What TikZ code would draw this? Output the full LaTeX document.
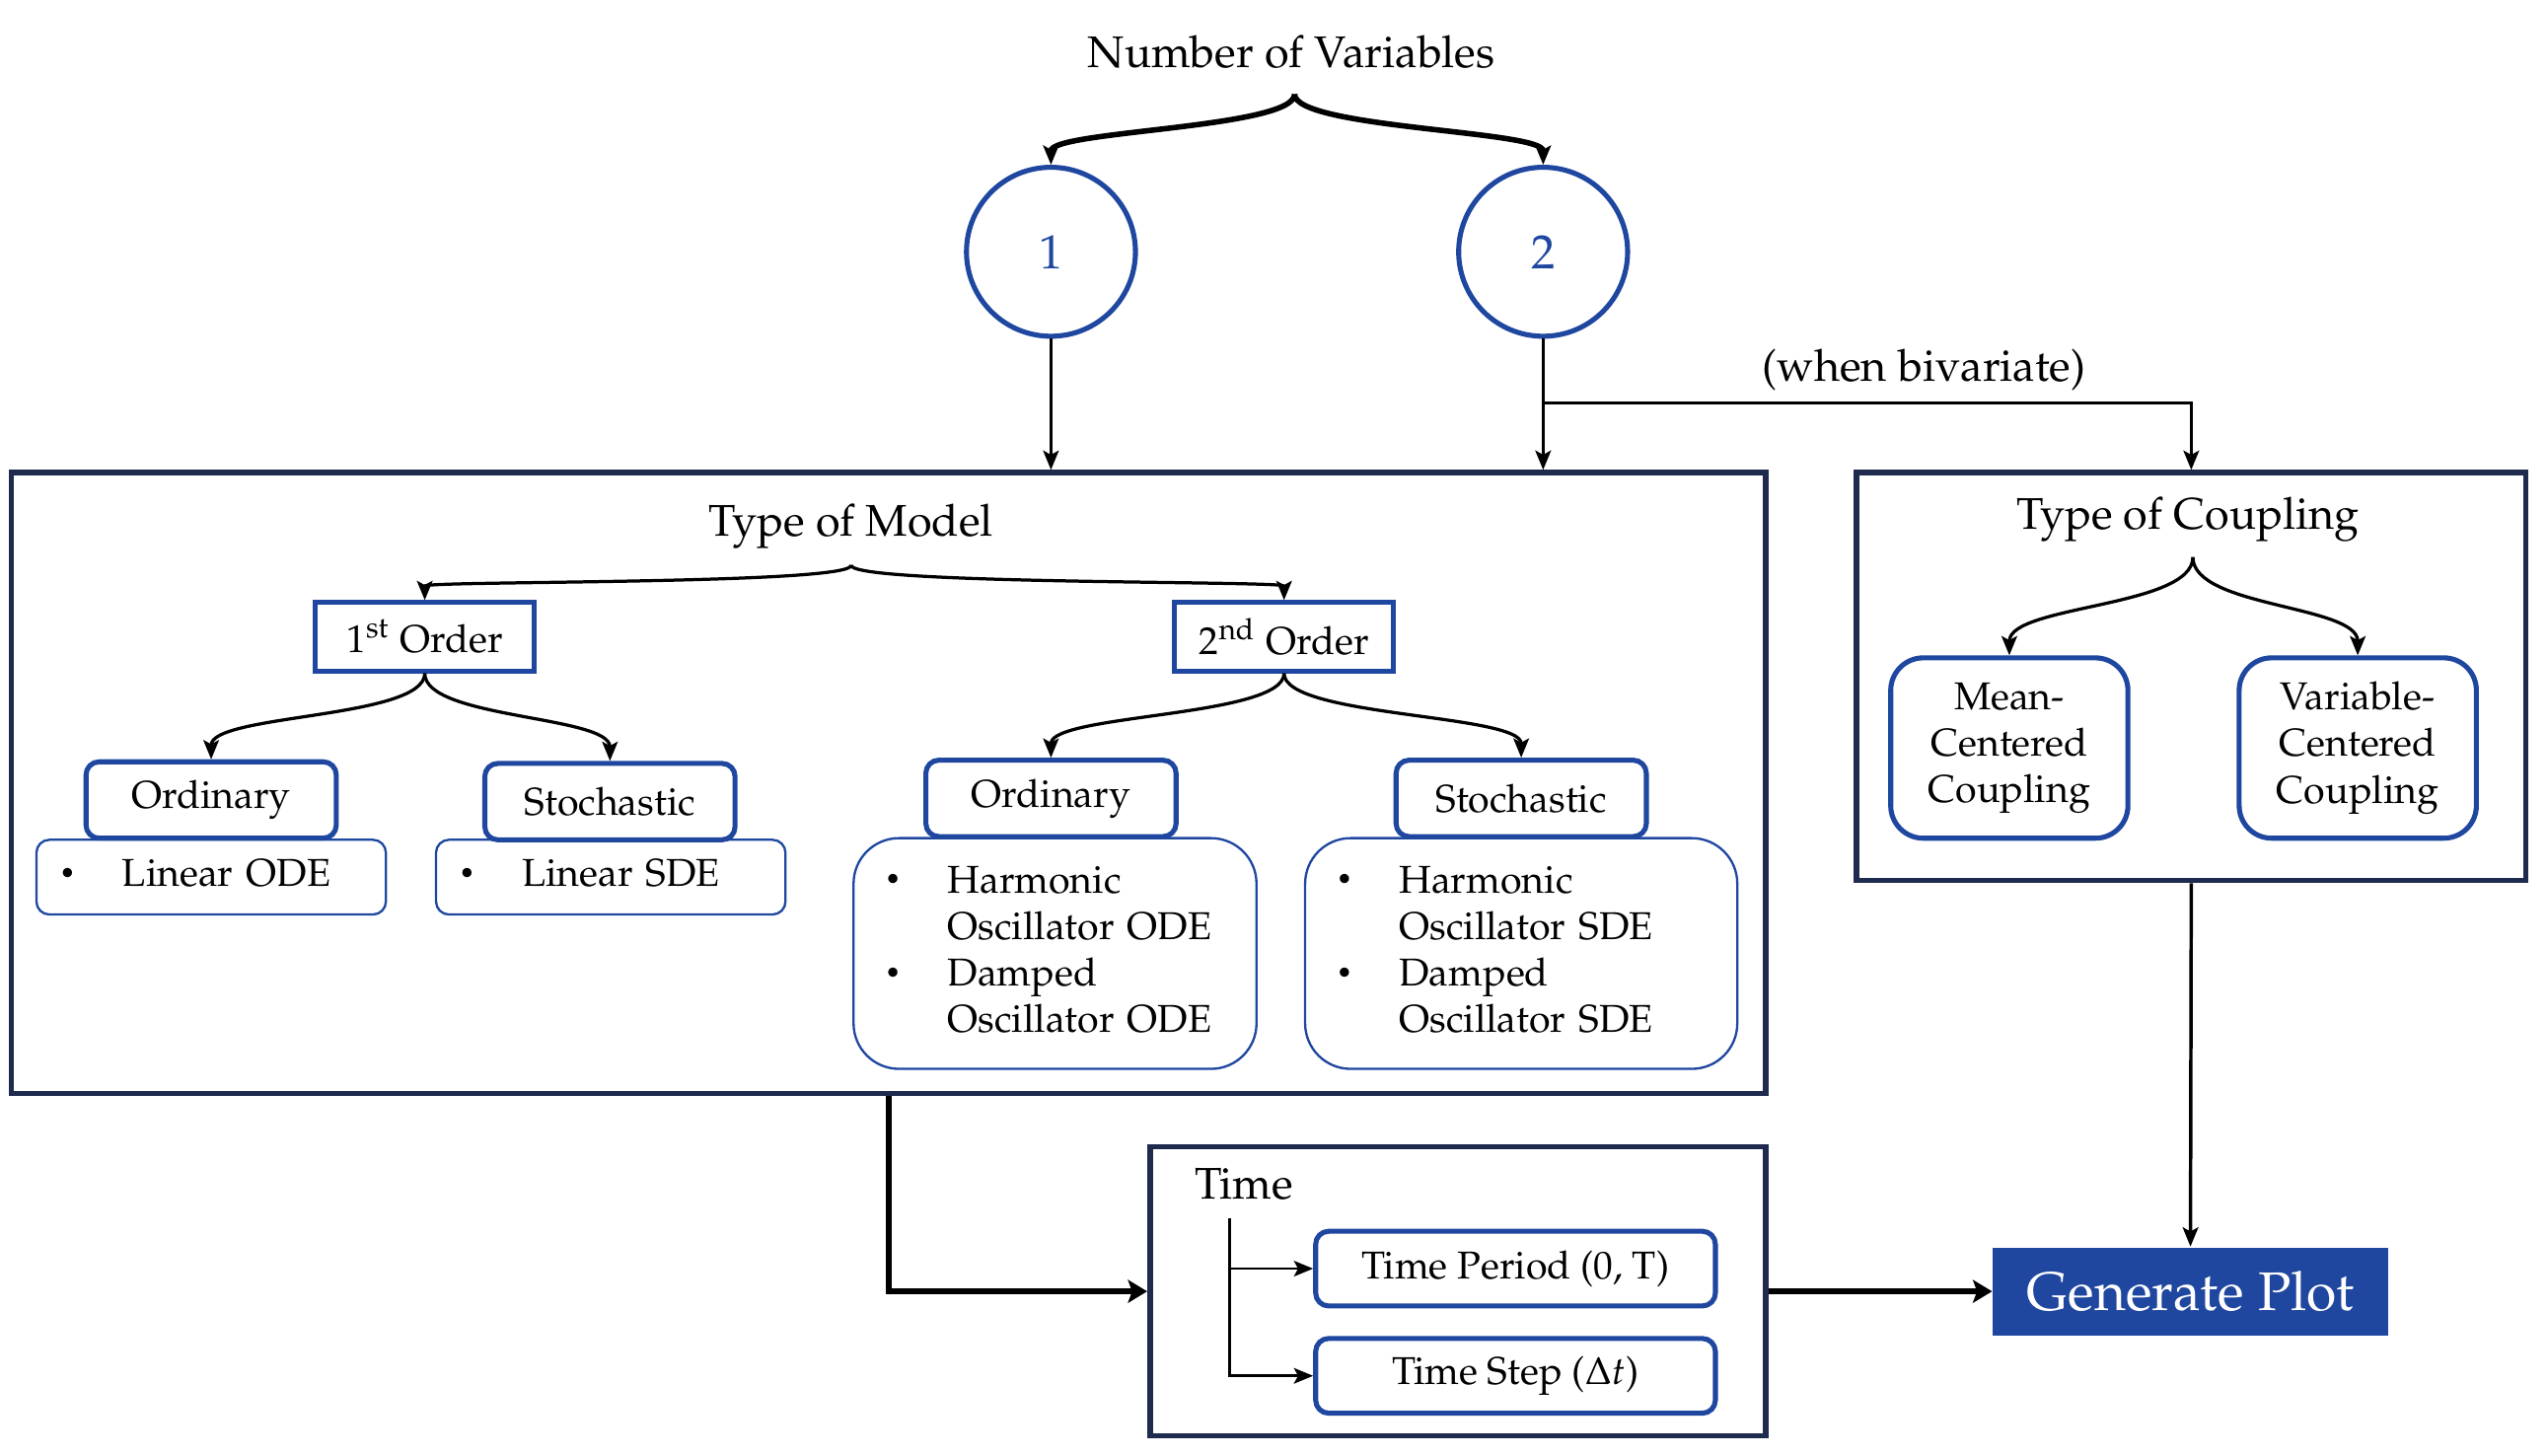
\documentclass[tikz,border=0pt]{standalone}
\usepackage[T1]{fontenc}
\usepackage{mathpazo}
\usepackage{tikz}
\usetikzlibrary{arrows.meta}
\definecolor{nodeblue}{RGB}{31,71,160}
\definecolor{boxnavy}{RGB}{30,43,79}
\newcommand{\bigtext}{\fontsize{9.7}{12}\selectfont}
\newcommand{\smalltext}{\fontsize{8.5}{10.2}\selectfont}
\newcommand{\itemrow}[1]{\raisebox{0.25ex}{\scalebox{0.7}{\textbullet}} & #1}

\begin{document}
\begin{tikzpicture}[x=0.0125cm,y=-0.0125cm,>={Stealth[length=4.2pt,width=3.4pt,inset=0.9pt]},
    group box/.style={draw=boxnavy,line width=1.2pt,inner sep=0pt},
    num node/.style={circle,draw=nodeblue,line width=1.1pt,minimum size=1.3cm,inner sep=0pt,text=nodeblue,font=\fontsize{10.5}{12}\selectfont},
    order node/.style={draw=nodeblue,line width=1.1pt,minimum width=1.6875cm,minimum height=0.525cm,inner sep=0pt,font=\smalltext},
    kind node/.style={draw=nodeblue,line width=1.1pt,rounded corners=0.1cm,minimum width=1.925cm,minimum height=0.5875cm,inner sep=0pt,font=\smalltext},
    list node/.style={draw=nodeblue,line width=0.5pt,align=left,inner ysep=0pt,font=\smalltext},
    couple node/.style={draw=nodeblue,line width=1.1pt,rounded corners=0.25cm,minimum width=1.825cm,minimum height=1.3875cm,inner sep=0pt,align=center,font=\smalltext},
    time node/.style={draw=nodeblue,line width=1.1pt,rounded corners=0.1cm,minimum width=3.075cm,minimum height=0.575cm,inner sep=0pt,font=\smalltext},
    brace/.style={->,line width=0.7pt},
    link/.style={->,line width=0.75pt},
    heavy link/.style={-{Stealth[length=4.2pt,width=5pt,inset=0.9pt]},line width=1.3pt}]

   \useasboundingbox (0,0) rectangle (1568,896);

   % number of variables
   \node[font=\bigtext] (nvlabel) at (795,32) {Number of Variables};
   \coordinate (nvtip) at (797,58);
   \node[num node] (one) at (647,155) {1};
   \node[num node] (two) at (950,155) {2};
   \draw[brace,line width=1.2pt] (nvtip) .. controls +(0,21) and +(0,-21) .. (one.north);
   \draw[brace,line width=1.2pt] (nvtip) .. controls +(0,21) and +(0,-21) .. (two.north);

   % type of model
   \node[group box,minimum width=13.5cm,minimum height=4.775cm] (modelbox) at (547,482) {};
   \node[font=\bigtext] (modellabel) at (524,324) {Type of Model};
   \coordinate (modeltip) at (524,348);
   \node[order node] (first) at (261.5,392) {1\textsuperscript{st} Order};
   \node[order node] (second) at (790.5,392) {2\textsuperscript{nd} Order};
   \draw[brace] (modeltip) .. controls +(0,12) and +(0,-12) .. (first.north);
   \draw[brace] (modeltip) .. controls +(0,12) and +(0,-12) .. (second.north);

   \node[kind node] (ordone) at (130,492.5) {Ordinary};
   \node[kind node] (stoone) at (375.5,493.5) {Stochastic};
   \node[kind node] (ordtwo) at (647,491.5) {Ordinary};
   \node[kind node] (stotwo) at (936.5,491.5) {Stochastic};
   \draw[brace] (first.south) .. controls +(0,28) and +(0,-28) .. (ordone.north);
   \draw[brace] (first.south) .. controls +(0,28) and +(0,-28) .. (stoone.north);
   \draw[brace] (second.south) .. controls +(0,27) and +(0,-27) .. (ordtwo.north);
   \draw[brace] (second.south) .. controls +(0,27) and +(0,-27) .. (stotwo.north);

   \node[list node,rounded corners=0.1cm,inner xsep=5pt,text width=66.5pt,minimum height=0.575cm] (odeone) at (130,540)
     {\begin{tabular}{@{}p{13.8pt}@{}l@{}}\itemrow{Linear ODE}\end{tabular}};
   \node[list node,rounded corners=0.1cm,inner xsep=5pt,text width=66.5pt,minimum height=0.575cm] (sdeone) at (376,540)
     {\begin{tabular}{@{}p{13.8pt}@{}l@{}}\itemrow{Linear SDE}\end{tabular}};
   \node[list node,rounded corners=0.35cm,inner xsep=6.8pt,text width=74.6pt,minimum height=1.775cm] (odetwo) at (649.5,587)
     {\begin{tabular}{@{}p{13.8pt}@{}l@{}}\itemrow{Harmonic}\\ & Oscillator ODE\\ \itemrow{Damped}\\ & Oscillator ODE\end{tabular}};
   \node[list node,rounded corners=0.35cm,inner xsep=6.8pt,text width=81pt,minimum height=1.775cm] (sdetwo) at (936.5,587)
     {\begin{tabular}{@{}p{13.8pt}@{}l@{}}\itemrow{Harmonic}\\ & Oscillator SDE\\ \itemrow{Damped}\\ & Oscillator SDE\end{tabular}};

   % type of coupling
   \node[group box,minimum width=5.15cm,minimum height=3.1375cm] (couplebox) at (1349,416.5) {};
   \node[font=\bigtext] (couplelabel) at (1347,320) {Type of Coupling};
   \coordinate (coupletip) at (1350,343);
   \node[couple node] (mean) at (1237,460.5) {Mean-\\Centered\\Coupling};
   \node[couple node] (var) at (1451.5,460.5) {Variable-\\Centered\\Coupling};
   \draw[brace] (coupletip) .. controls +(0,31) and +(0,-31) .. (mean.north);
   \draw[brace] (coupletip) .. controls +(0,31) and +(0,-31) .. (var.north);

   % time
   \node[group box,minimum width=4.7375cm,minimum height=2.225cm] (timebox) at (897.5,795) {};
   \node[font=\bigtext,anchor=west,inner sep=0pt] (timelabel) at (735,729) {Time};
   \coordinate (timetop) at (757,750);
   \node[time node] (period) at (933,781) {Time Period (0, T)};
   \node[time node] (tstep) at (933,847) {Time Step ($\Delta t$)};
   \draw[link,line width=0.6pt] (timetop) |- (period.west);
   \draw[link,line width=0.6pt] (timetop) |- (tstep.west);

   % plot
   \node[fill=nodeblue,text=white,minimum width=3.0375cm,minimum height=0.675cm,inner sep=0pt,font=\fontsize{11.9}{14}\selectfont] (plot) at (1348.5,795) {Generate Plot};

   % connections
   \draw[link] (one.south) -- (one.south |- modelbox.north);
   \draw[link] (two.south) -- (two.south |- modelbox.north);
   \coordinate (split) at (950,248);
   \draw[link] (split) -| node[pos=0.294,above=-1pt,font=\bigtext] (bivlabel) {(when bivariate)} (couplebox.north);
   \draw[link] (couplebox.south) -- (plot.north);
   \draw[heavy link] (modelbox.south) |- (timebox.west);
   \draw[heavy link] (timebox.east) -- (plot.west);
  \end{tikzpicture}
\end{document}
